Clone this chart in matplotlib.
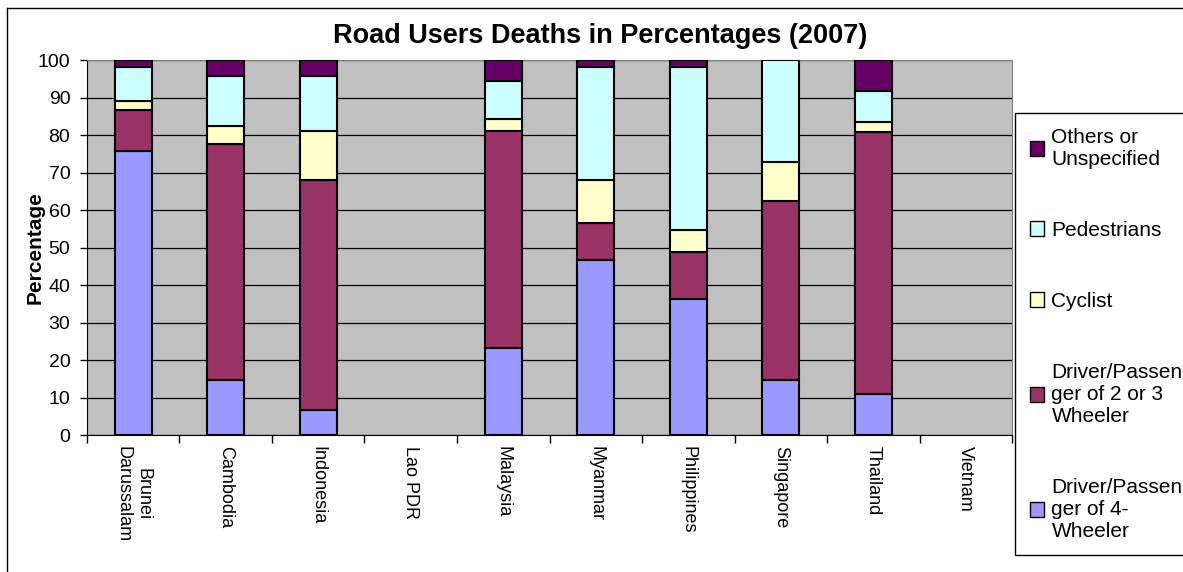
import numpy as np
import matplotlib.pyplot as plt
from matplotlib.patches import Patch
from matplotlib.lines import Line2D

plt.rcParams['font.family'] = ['Liberation Sans', 'DejaVu Sans']

countries = ['Brunei\nDarussalam', 'Cambodia', 'Indonesia', 'Lao PDR', 'Malaysia',
             'Myanmar', 'Philippines', 'Singapore', 'Thailand', 'Vietnam']
four_wheeler = [75.8, 14.6, 6.8, 0, 23.3, 46.8, 36.3, 14.6, 11.0, 0]
two_three_wheeler = [10.9, 62.9, 61.1, 0, 57.9, 9.7, 12.4, 47.7, 69.7, 0]
cyclist = [2.4, 5.0, 13.3, 0, 3.1, 11.4, 5.9, 10.6, 2.9, 0]
pedestrians = [9.1, 13.3, 14.6, 0, 10.1, 30.3, 43.6, 27.1, 8.1, 0]
others = [1.8, 4.2, 4.2, 0, 5.6, 1.8, 1.8, 0, 8.3, 0]

series = [
    ('Driver/Passen\nger of 4-\nWheeler', four_wheeler, '#9999FF'),
    ('Driver/Passen\nger of 2 or 3\nWheeler', two_three_wheeler, '#993366'),
    ('Cyclist', cyclist, '#FFFFCC'),
    ('Pedestrians', pedestrians, '#CCFFFF'),
    ('Others or\nUnspecified', others, '#660066'),
]

fig = plt.figure(figsize=(11.83, 5.72), dpi=100)
ax = fig.add_axes([0.0735, 0.2395, 0.782, 0.6556])
ax.set_facecolor('#C0C0C0')

x = np.arange(len(countries))
bottom = np.zeros(len(countries))
handles = []
for label, vals, color in series:
    vals = np.array(vals)
    keep = vals > 0  # Excel draws nothing for empty segments
    ax.bar(x[keep], vals[keep], width=0.4, bottom=bottom[keep], color=color,
           edgecolor='black', linewidth=1.5, zorder=3)
    bottom += vals
    handles.append(Patch(facecolor=color, edgecolor='black', linewidth=1, label=label))

ax.set_xlim(-0.5, len(countries) - 0.5)
ax.set_ylim(0, 100)
ax.set_yticks(range(0, 101, 10))
ax.yaxis.grid(True, color='black', linewidth=0.9, zorder=1)
ax.tick_params(axis='y', labelsize=14, direction='out', length=5, width=1, pad=7)

ax.set_xticks(x)
ax.set_xticklabels(countries, rotation=270, fontsize=13, va='top', ha='center')
ax.tick_params(axis='x', which='major', length=0, pad=8)
ax.set_xticks(np.arange(-0.5, len(countries), 1), minor=True)
ax.tick_params(axis='x', which='minor', length=6, width=1, direction='out')

for side in ['top', 'right']:
    ax.spines[side].set_color('#808080')
ax.spines['left'].set_color('black')
ax.spines['bottom'].set_color('black')

ax.set_ylabel('Percentage', fontsize=15, fontweight='bold', va='center')
ax.yaxis.set_label_coords(-0.056, 0.5)
ax.set_title('Road Users Deaths in Percentages (2007)', fontsize=19.5,
             fontweight='bold', pad=12, x=0.555)

leg = fig.legend(handles=handles[::-1], loc='upper left',
                 bbox_to_anchor=(0.858, 1 - 113 / 572), fontsize=15, frameon=True,
                 fancybox=False, edgecolor='black', framealpha=1,
                 labelspacing=2.5, handlelength=0.7, handleheight=0.7,
                 handletextpad=0.35, borderpad=0.7, borderaxespad=0)
leg.get_frame().set_linewidth(1)

# outer chart border
fig.add_artist(Line2D([0.006, 0.006], [0, 0.986], color='black', linewidth=1,
                      transform=fig.transFigure))
fig.add_artist(Line2D([0.006, 1], [0.986, 0.986], color='black', linewidth=1,
                      transform=fig.transFigure))

fig.savefig('out.png', dpi=100)
